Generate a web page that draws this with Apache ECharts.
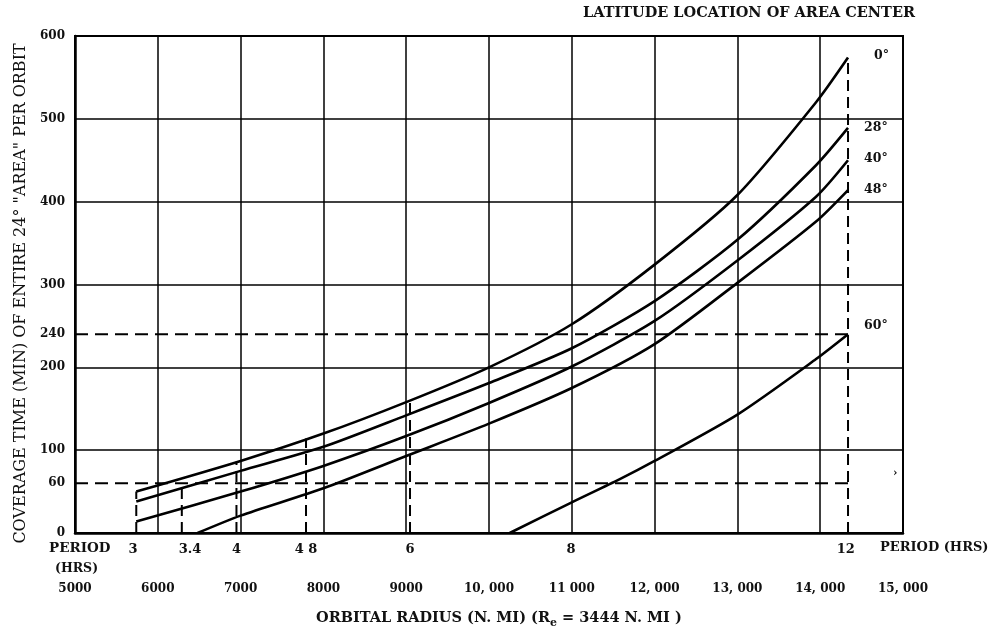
<!DOCTYPE html>
<html><head><meta charset="utf-8">
<script src="https://cdn.jsdelivr.net/npm/echarts@6/dist/echarts.min.js"></script>
<style>html,body{margin:0;padding:0;background:#fff}#c{width:990px;height:631px}</style>
</head><body><div id="c"></div>
<script>
// ---- data ----
const radiusTicks = [5000, 6000, 7000, 8000, 9000, 10000, 11000, 12000, 13000, 14000, 15000];
const radiusTickLabels = ['5000', '6000', '7000', '8000', '9000', '10, 000', '11 000', '12, 000', '13, 000', '14, 000', '15, 000'];
const yTickValues = [0, 60, 100, 200, 240, 300, 400, 500, 600];
const periodRadius = [5700, 6390, 6950, 7790, 9046, 10990, 14310];
const periodLabels = ['3', '3.4', '4', '4 8', '6', '8', '12'];

const latLabels = ['0°', '28°', '40°', '48°', '60°'];
const radius0  = [5740, 7000, 8000, 9000, 10000, 11000, 12000, 13000, 13950, 14336];
const cover0   = [50, 87, 120, 158, 200, 252, 324, 408, 520, 574];
const radius28 = [5740, 7000, 8000, 9000, 10000, 11000, 12000, 13000, 13950, 14336];
const cover28  = [38, 75, 104, 142, 181, 223, 280, 354, 444, 489];
const radius40 = [5740, 7000, 8000, 9000, 10000, 11000, 12000, 13000, 13950, 14336];
const cover40  = [14, 50, 81, 117, 157, 201, 256, 329, 406, 450];
const radius48 = [6480, 7000, 8000, 9000, 10000, 11000, 12000, 13000, 13950, 14336];
const cover48  = [0, 21, 54, 93, 132, 175, 228, 302, 376, 414];
const radius60 = [10250, 11000, 11580, 12000, 13000, 13950, 14336];
const cover60  = [0, 37, 65, 87, 143, 210, 240];

// dashed reference lines
const dashPeriodRadius = [5740, 6290, 6950, 7790, 9046, 14336];
const dashPeriodTop    = [50, 60, 86, 114, 160, 574];
const dashCoverValues  = [60, 240];
const dashCoverEnd     = 14336;

// ---- chart ----
const serif = 'DejaVu Serif';
const ink = '#111';
const curveSets = [
  [radius0, cover0, [18, -2]],
  [radius28, cover28, [8, 0]],
  [radius40, cover40, [8, -2]],
  [radius48, cover48, [8, 0]],
  [radius60, cover60, [8, -8]]
];
const series = [];
curveSets.forEach((c, k) => {
  series.push({
    type: 'line', xAxisIndex: 0, yAxisIndex: 0, silent: true,
    data: c[0].map((r, i) => [r, c[1][i]]),
    smooth: 0.25, symbol: 'none',
    lineStyle: { color: '#000', width: 2.6 },
    endLabel: { show: true, formatter: latLabels[k], offset: c[2], color: ink,
      fontFamily: serif, fontWeight: 'bold', fontSize: 12.5 }
  });
});
dashPeriodRadius.forEach((r, i) => {
  series.push({
    type: 'line', silent: true, symbol: 'none',
    data: [[r, 0], [r, dashPeriodTop[i]]],
    lineStyle: { color: '#000', width: 2, type: [11, 6] }
  });
});
dashCoverValues.forEach(v => {
  series.push({
    type: 'line', silent: true, symbol: 'none',
    data: [[radiusTicks[0], v], [dashCoverEnd, v]],
    lineStyle: { color: '#000', width: 2, type: [13, 7] }
  });
});

const chart = echarts.init(document.getElementById('c'), null, { renderer: 'canvas' });
chart.setOption({
  animation: false,
  backgroundColor: '#fff',
  grid: { left: 75, right: 87, top: 36, bottom: 98, containLabel: false, outerBoundsMode: 'none',
    show: true, borderColor: '#000', borderWidth: 2, backgroundColor: 'transparent' },
  xAxis: [
    { type: 'value', min: 5000, max: 15000, interval: 1000, position: 'bottom',
      axisLine: { show: true, onZero: false, lineStyle: { color: '#000', width: 2.5 } },
      axisTick: { show: false },
      splitLine: { show: true, lineStyle: { color: '#000', width: 1.5 } },
      axisLabel: { margin: 50, color: ink, fontFamily: serif, fontWeight: 'bold', fontSize: 12,
        formatter: v => { const i = radiusTicks.indexOf(v); return i >= 0 ? radiusTickLabels[i] : ''; } } },
    { type: 'value', min: 5000, max: 15000, position: 'bottom',
      axisLine: { show: false }, axisTick: { show: false }, splitLine: { show: false },
      axisLabel: { margin: 10, color: ink, fontFamily: serif, fontWeight: 'bold', fontSize: 13,
        customValues: periodRadius,
        formatter: v => { const i = periodRadius.indexOf(v); return i >= 0 ? periodLabels[i] : ''; } } }
  ],
  yAxis: {
    type: 'value', min: 0, max: 600, interval: 100,
    name: 'COVERAGE TIME (MIN) OF ENTIRE 24° "AREA" PER ORBIT',
    nameLocation: 'middle', nameGap: 40, nameRotate: 90,
    nameTextStyle: { color: ink, fontFamily: serif, fontSize: 16, padding: [0, 18, 0, 0] },
    axisLine: { show: true, onZero: false, lineStyle: { color: '#000', width: 2.5 } },
    axisTick: { show: false },
    splitLine: { show: true, lineStyle: { color: '#000', width: 1.5 } },
    axisLabel: { margin: 10, color: ink, fontFamily: serif, fontWeight: 'bold', fontSize: 12,
      customValues: yTickValues }
  },
  series: series,
  graphic: [
    { type: 'text', right: 75, top: 6, style: { text: 'LATITUDE LOCATION OF AREA CENTER', fill: ink,
      font: 'bold 14.5px "DejaVu Serif"' } },
    { type: 'text', left: 49, top: 541, style: { text: 'PERIOD', fill: ink, font: 'bold 13.5px "DejaVu Serif"' } },
    { type: 'text', left: 55, top: 562, style: { text: '(HRS)', fill: ink, font: 'bold 12.5px "DejaVu Serif"' } },
    { type: 'text', left: 880, top: 541, style: { text: 'PERIOD (HRS)', fill: ink, font: 'bold 13px "DejaVu Serif"' } },
    { type: 'text', left: 893, top: 468, style: { text: '›', fill: ink, font: 'bold 11px "DejaVu Serif"' } },
    { type: 'text', left: 316, top: 611, style: {
      text: '{a|ORBITAL RADIUS (N. MI) (R}{s|e}{a| = 3444 N. MI )}',
      rich: { a: { fill: ink, font: 'bold 14.5px "DejaVu Serif"' },
              s: { fill: ink, font: 'bold 11px "DejaVu Serif"', padding: [10, 0, 0, 0] } } } }
  ]
});
</script>
</body></html>
